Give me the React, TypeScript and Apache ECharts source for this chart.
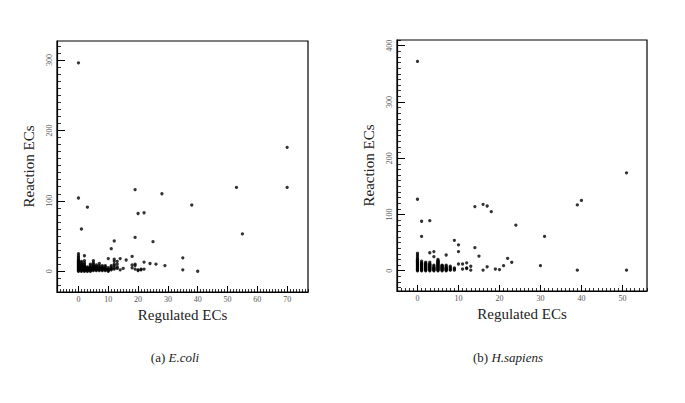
import React, { useEffect, useRef } from "react";
import * as echarts from "echarts";

// E.coli: [Regulated ECs, Reaction ECs]
const ecoliPoints: number[][] = [
  [0,0],[0,1],[0,2],[0,3],[0,4],[0,5],[0,6],[0,7],[0,8],[0,9],[0,10],[0,11],[0,12],[0,13],[0,14],[0,15],[0,16],[0,18],[0,20],[0,22],[0,25],[0,104],[0,296],
  [1,0],[1,1],[1,2],[1,3],[1,4],[1,5],[1,6],[1,7],[1,8],[1,9],[1,10],[1,12],[1,14],[1,60],
  [2,0],[2,1],[2,2],[2,3],[2,4],[2,5],[2,6],[2,7],[2,8],[2,10],[2,12],[2,15],[2,22],
  [3,0],[3,1],[3,2],[3,3],[3,4],[3,5],[3,6],[3,91],
  [4,0],[4,1],[4,2],[4,3],[4,4],[4,5],[4,6],[4,8],[4,10],
  [5,1],[5,2],[5,3],[5,4],[5,5],[5,6],[5,7],[5,8],[5,10],[5,12],[5,15],
  [6,1],[6,2],[6,3],[6,4],[6,5],[6,6],[6,7],[6,9],
  [7,1],[7,2],[7,3],[7,4],[7,5],[7,6],[7,8],[7,11],
  [8,1],[8,2],[8,3],[8,4],[8,5],[8,6],[8,8],
  [9,1],[9,2],[9,3],[9,4],[9,6],[9,8],
  [10,0],[10,1],[10,2],[10,3],[10,5],[10,18],
  [11,2],[11,3],[11,4],[11,6],[11,8],[11,32],
  [12,3],[12,5],[12,8],[12,10],[12,14],[12,17],[12,43],
  [13,4],[13,6],[13,10],[13,14],
  [14,2],[14,18],[15,4],[16,16],
  [18,5],[18,9],[18,21],
  [19,3],[19,8],[19,10],[19,48],[19,116],
  [20,1],[20,2],[20,82],
  [21,2],[21,3],
  [22,3],[22,13],[22,83],
  [24,11],[25,42],[26,10],[28,110],[29,8],
  [35,2],[35,19],[38,94],[40,0],[53,119],[55,53],[70,119],[70,176],
];

// H.sapiens: [Regulated ECs, Reaction ECs]
const hsapiensPoints: number[][] = [
  [0,0],[0,1],[0,2],[0,3],[0,4],[0,5],[0,6],[0,7],[0,8],[0,9],[0,10],[0,11],[0,12],[0,13],[0,14],[0,15],[0,16],[0,17],[0,18],[0,19],[0,20],[0,22],[0,25],[0,28],[0,31],[0,127],[0,372],
  [1,0],[1,1],[1,2],[1,3],[1,4],[1,5],[1,6],[1,7],[1,8],[1,9],[1,10],[1,11],[1,12],[1,13],[1,14],[1,17],[1,61],[1,88],
  [2,0],[2,1],[2,2],[2,3],[2,4],[2,5],[2,6],[2,7],[2,8],[2,9],[2,10],[2,11],[2,12],[2,13],[2,15],
  [3,0],[3,1],[3,2],[3,3],[3,4],[3,5],[3,6],[3,7],[3,8],[3,9],[3,10],[3,11],[3,12],[3,15],[3,32],[3,89],
  [4,0],[4,1],[4,2],[4,3],[4,4],[4,5],[4,6],[4,8],[4,10],[4,25],[4,34],
  [5,0],[5,1],[5,2],[5,3],[5,4],[5,5],[5,6],[5,7],[5,8],[5,9],[5,10],[5,11],[5,12],[5,13],[5,14],[5,15],[5,16],[5,17],[5,18],[5,20],
  [6,0],[6,1],[6,2],[6,3],[6,4],[6,5],[6,6],[6,7],[6,8],[6,9],[6,10],
  [7,0],[7,1],[7,2],[7,3],[7,4],[7,5],[7,6],[7,8],[7,10],[7,28],
  [8,1],[8,2],[8,4],[8,6],[8,8],
  [9,1],[9,3],[9,5],[9,54],
  [10,12],[10,34],[10,46],
  [11,3],[11,12],
  [12,4],[12,5],[12,14],
  [13,1],[13,8],
  [14,41],[14,114],[15,26],[16,1],[16,118],[17,7],[17,115],[18,105],
  [19,3],[20,2],[21,9],[22,22],[23,15],[24,81],
  [30,9],[31,61],[39,1],[39,117],[40,125],[51,1],[51,174],
];

const ecoliXTicks = [0, 10, 20, 30, 40, 50, 60, 70];
const ecoliYTicks = [0, 100, 200, 300];
const hsapXTicks = [0, 10, 20, 30, 40, 50];
const hsapYTicks = [0, 100, 200, 300, 400];

const FONT = "'Liberation Serif', 'DejaVu Serif', serif";

function range(a: number, b: number, step: number): number[] {
  const out: number[] = [];
  for (let v = a; v <= b + 1e-9; v += step) out.push(Math.round(v * 1000) / 1000);
  return out;
}

function makeAxes(
  gridIndex: number,
  dim: "x" | "y",
  min: number,
  max: number,
  major: number[],
  minor: number[],
  name: string
) {
  const isX = dim === "x";
  const main = {
    type: "value",
    gridIndex,
    min,
    max,
    position: isX ? "bottom" : "left",
    name,
    nameLocation: "middle",
    nameGap: isX ? 15 : 21,
    nameTextStyle: { fontFamily: FONT, fontSize: 15, color: "#222" },
    axisLine: { show: true, onZero: false, lineStyle: { color: "#000", width: 1.2 } },
    axisTick: {
      show: true,
      inside: true,
      length: isX ? 6 : 8,
      customValues: major,
      lineStyle: { color: "#000", width: 1 },
    },
    axisLabel: {
      show: true,
      customValues: major,
      fontFamily: FONT,
      fontSize: 8,
      color: "#555",
      margin: isX ? 3 : 4,
      rotate: isX ? 0 : 90,
    },
    splitLine: { show: false },
  };
  const minorAxis = {
    type: "value",
    gridIndex,
    min,
    max,
    position: isX ? "bottom" : "left",
    axisLine: { show: false, onZero: false },
    axisTick: {
      show: true,
      inside: true,
      length: isX ? 3 : 4,
      customValues: minor,
      lineStyle: { color: "#000", width: 0.8 },
    },
    axisLabel: { show: false },
    splitLine: { show: false },
  };
  return [main, minorAxis];
}

export default function App() {
  const ref = useRef<HTMLDivElement>(null);
  useEffect(() => {
    if (!ref.current) return;
    const chart = echarts.init(ref.current, undefined, { renderer: "svg" });

    const xAxes = [
      ...makeAxes(0, "x", -7.2, 77, ecoliXTicks, range(-7, 77, 1), "Regulated ECs"),
      ...makeAxes(1, "x", -5, 56, hsapXTicks, range(-5, 56, 1), "Regulated ECs"),
    ];
    const yAxes = [
      ...makeAxes(0, "y", -29.5, 327, ecoliYTicks, range(-20, 320, 10), "Reaction ECs"),
      ...makeAxes(1, "y", -36, 410, hsapYTicks, range(-30, 410, 10), "Reaction ECs"),
    ];

    const caption = (t: string, it: string) => ({
      text: `{n|${t} }{i|${it}}`,
      textAlign: "center",
      textVerticalAlign: "middle",
      rich: {
        n: { fontFamily: FONT, fontSize: 13, fill: "#222" },
        i: { fontFamily: FONT, fontSize: 13, fontStyle: "italic", fill: "#222" },
      },
    });

    chart.setOption({
      animation: false,
      backgroundColor: "#fff",
      grid: [
        { left: 57, top: 41, width: 251, height: 251, show: true, borderColor: "#000", borderWidth: 1.2, backgroundColor: "transparent" },
        { left: 397, top: 40, width: 250, height: 251, show: true, borderColor: "#000", borderWidth: 1.2, backgroundColor: "transparent" },
      ],
      xAxis: xAxes,
      yAxis: yAxes,
      series: [
        {
          type: "scatter",
          xAxisIndex: 0,
          yAxisIndex: 0,
          data: ecoliPoints,
          symbol: "circle",
          symbolSize: 3.3,
          itemStyle: { color: "#000" },
        },
        {
          type: "scatter",
          xAxisIndex: 2,
          yAxisIndex: 2,
          data: hsapiensPoints,
          symbol: "circle",
          symbolSize: 3.3,
          itemStyle: { color: "#000" },
        },
      ],
      graphic: [
        { type: "text", x: 175, y: 357, style: caption("(a)", "E.coli") },
        { type: "text", x: 508, y: 357, style: caption("(b)", "H.sapiens") },
      ],
    });
    return () => chart.dispose();
  }, []);
  return (
    <div
      ref={ref}
      style={{ position: "fixed", left: 0, top: 0, width: 685, height: 403, background: "#fff" }}
    />
  );
}
